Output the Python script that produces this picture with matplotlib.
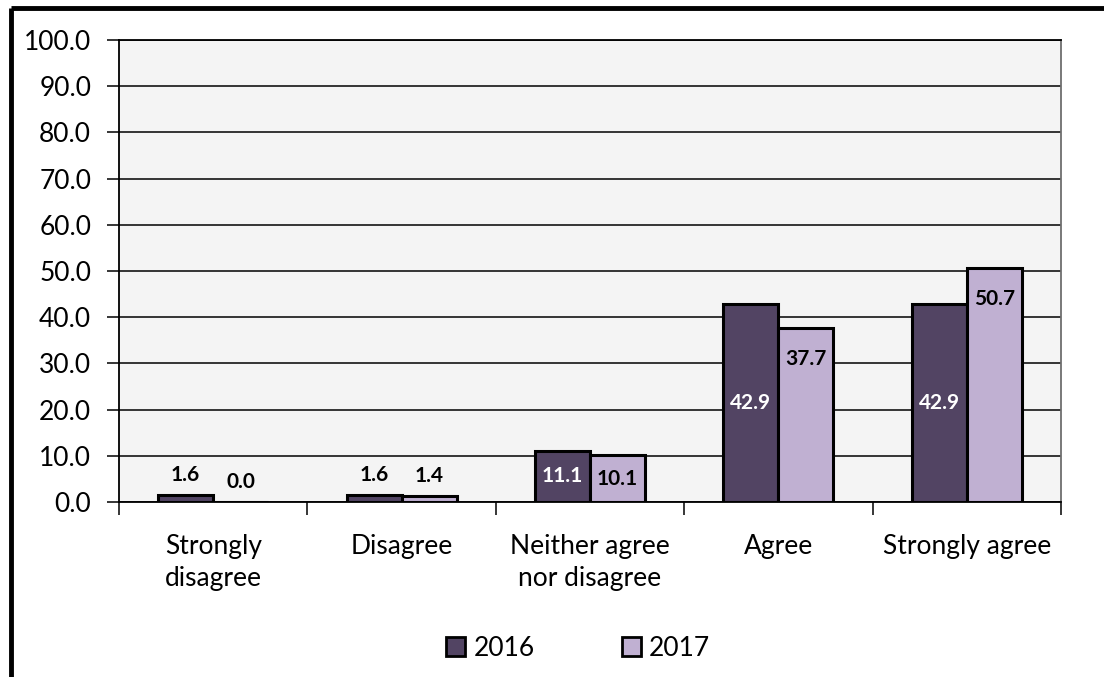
import matplotlib
matplotlib.use("Agg")
import matplotlib.pyplot as plt
from matplotlib.lines import Line2D
import numpy as np

categories = ["Strongly\ndisagree", "Disagree", "Neither agree\nnor disagree", "Agree", "Strongly agree"]
years = ["2016", "2017"]
values_2016 = [1.6, 1.6, 11.1, 42.9, 42.9]
values_2017 = [0.0, 1.4, 10.1, 37.7, 50.7]
y_ticks = [0, 10, 20, 30, 40, 50, 60, 70, 80, 90, 100]

plt.rcParams["font.family"] = ["Lato", "DejaVu Sans"]

dark = "#524463"
light = "#C0B0D2"

fig = plt.figure(figsize=(11.04, 6.77), dpi=100)
ax = fig.add_axes([119 / 1104, 1 - 502 / 677, (1061 - 119) / 1104, (502 - 40) / 677])
ax.set_facecolor("#F4F4F4")

x = np.arange(len(categories))
w = 0.292
ax.bar(x - w / 2, values_2016, w, color=dark, edgecolor="black", linewidth=2.2, zorder=3)
ax.bar(x + w / 2, values_2017, w, color=light, edgecolor="black", linewidth=2.2, zorder=3)

ax.set_xlim(-0.5, len(categories) - 0.5)
ax.set_ylim(0, 100)
ax.set_yticks(y_ticks)
ax.set_yticklabels([f"{v:.1f}" for v in y_ticks], fontsize=19)
ax.yaxis.grid(True, color="black", linewidth=1.1, zorder=0)
ax.set_axisbelow(True)

ax.set_xticks(np.arange(-0.5, len(categories), 1.0))
ax.set_xticklabels([])
ax.set_xticks(x, minor=True)
ax.set_xticklabels(categories, minor=True, fontsize=19, linespacing=1.35)
ax.tick_params(axis="x", which="minor", length=0, pad=23)
ax.tick_params(axis="x", which="major", length=9, width=1.1, direction="out")
ax.tick_params(axis="y", length=9, width=1.1, direction="out", pad=11)

for side in ["left", "bottom", "top"]:
    ax.spines[side].set_color("black")
    ax.spines[side].set_linewidth(1.3)
ax.spines["right"].set_color("#6e6e6e")
ax.spines["right"].set_linewidth(1.3)

px = 100.0 / (502 - 40)  # data units per pixel vertically


def put_label(xc, v, color, mode):
    if mode == "above":
        y = v + 20 * px
    elif mode == "top":
        y = v - 31 * px
    else:
        y = v / 2
    ax.text(xc, y, f"{v:.1f}", ha="center", va="center", fontsize=15,
            fontweight="bold", color=color, zorder=5)


for i, v in enumerate(values_2016):
    if v < 5:
        put_label(x[i] - w / 2, v, "black", "above")
    else:
        put_label(x[i] - w / 2, v, "white", "center")

for i, v in enumerate(values_2017):
    if v < 5:
        put_label(x[i] + w / 2, v, "black", "above")
    elif v < 20:
        put_label(x[i] + w / 2, v, "black", "center")
    else:
        put_label(x[i] + w / 2, v, "black", "top")

handles = [
    plt.Rectangle((0, 0), 1, 1, facecolor=dark, edgecolor="black", linewidth=2),
    plt.Rectangle((0, 0), 1, 1, facecolor=light, edgecolor="black", linewidth=2),
]
fig.legend(handles, years, loc="center", bbox_to_anchor=(578 / 1104, 1 - 648 / 677),
           ncol=2, frameon=False, fontsize=19, handlelength=0.75, handleheight=0.75,
           handletextpad=0.3, columnspacing=3.3)

# outer frame lines along the left and top edges
fig.add_artist(Line2D([11 / 1104, 11 / 1104], [0, 1 - 8 / 677], transform=fig.transFigure,
                      color="black", linewidth=3.5, solid_capstyle="butt"))
fig.add_artist(Line2D([11 / 1104, 1], [1 - 8 / 677, 1 - 8 / 677], transform=fig.transFigure,
                      color="black", linewidth=3.5, solid_capstyle="butt"))

fig.savefig("out.png", dpi=100)
